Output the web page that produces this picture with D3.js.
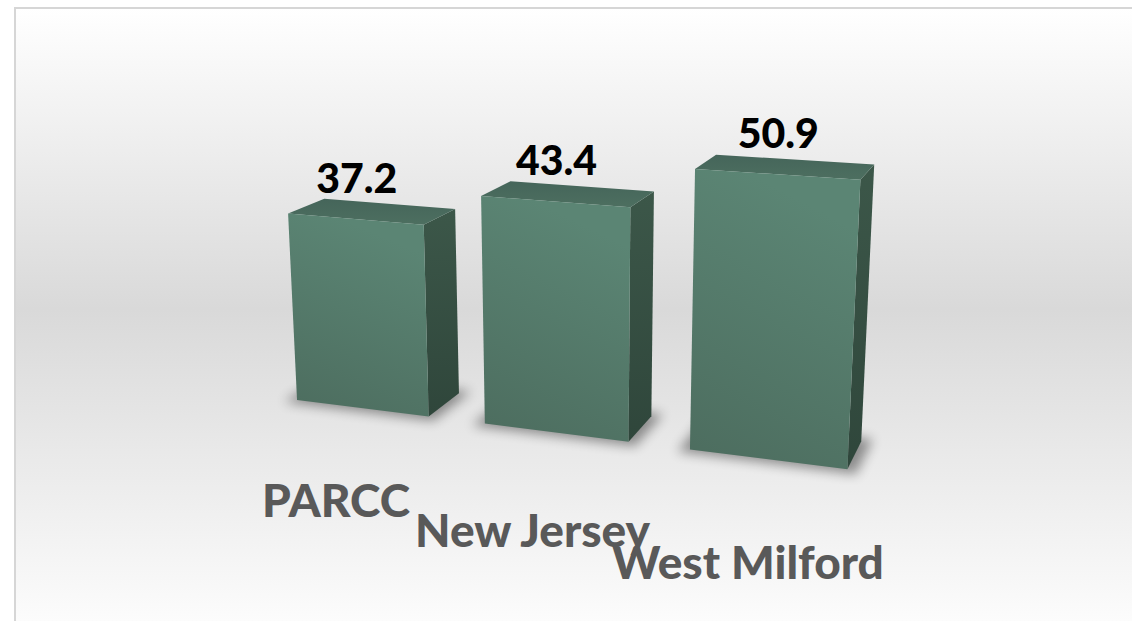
<!DOCTYPE html>
<html><head><meta charset="utf-8">
<script src="https://cdn.jsdelivr.net/npm/d3@7"></script>
<style>body{margin:0;background:#fff}svg{display:block}</style>
</head><body><svg id="c" width="1132" height="621"></svg>
<script>
// ---- data ----
const categories = ["PARCC", "New Jersey", "West Milford"];
const values = [37.2, 43.4, 50.9];
const valueLabels = ["37.2", "43.4", "50.9"];
const yDomain = [0, 60];

// ---- layout ----
const svg = d3.select("#c");
const W = 1132, H = 621;

// 3D camera (perspective)
const deg = Math.PI / 180;
const camera = { f: 1555, cx: 583, cy: 259, yaw: 19.4 * deg, pitch: 14.3 * deg, origin: [-242.6, 107.1, 1209.5] };
const ct = Math.cos(camera.yaw), st = Math.sin(camera.yaw), cp = Math.cos(camera.pitch), sp = Math.sin(camera.pitch);
const ex = [ct, st * sp, -st * cp];
const ey = [0, -cp, -sp];
const ez = [st, -ct * sp, ct * cp];
function project(X, Y, Z) {
  const o = camera.origin;
  const c = [0, 1, 2].map(i => o[i] + X * ex[i] + Y * ey[i] + Z * ez[i]);
  return [camera.cx + camera.f * c[0] / c[2], camera.cy + camera.f * c[1] / c[2]];
}

const x = d3.scaleBand().domain(categories).range([0, 472]).paddingInner(0.29).paddingOuter(0.145);
const y = d3.scaleLinear().domain(yDomain).range([0, 238]);
const depth = 56;

// ---- defs ----
const defs = svg.append("defs");
const bg = defs.append("linearGradient").attr("id", "bg").attr("x1", 0).attr("y1", 0).attr("x2", 0).attr("y2", 1);
bg.append("stop").attr("offset", 0).attr("stop-color", "#ffffff");
bg.append("stop").attr("offset", 0.47).attr("stop-color", "#d9d9d9");
bg.append("stop").attr("offset", 1).attr("stop-color", "#ffffff");

const fg = defs.append("linearGradient").attr("id", "front").attr("x1", 0.3).attr("y1", 0).attr("x2", 0).attr("y2", 1);
fg.append("stop").attr("offset", 0).attr("stop-color", "#5b8574");
fg.append("stop").attr("offset", 1).attr("stop-color", "#4c6c5e");

const rg = defs.append("linearGradient").attr("id", "right").attr("x1", 0).attr("y1", 0).attr("x2", 0).attr("y2", 1);
rg.append("stop").attr("offset", 0).attr("stop-color", "#3c5749");
rg.append("stop").attr("offset", 1).attr("stop-color", "#2f463b");

const tg = defs.append("linearGradient").attr("id", "top").attr("x1", 0).attr("y1", 1).attr("x2", 0).attr("y2", 0);
tg.append("stop").attr("offset", 0).attr("stop-color", "#4d6f60");
tg.append("stop").attr("offset", 1).attr("stop-color", "#45655a");

const blur = defs.append("filter").attr("id", "blur").attr("x", "-50%").attr("y", "-50%").attr("width", "200%").attr("height", "200%");
blur.append("feGaussianBlur").attr("stdDeviation", 6);

// ---- background ----
svg.append("rect").attr("x", 15).attr("y", 8).attr("width", W + 20).attr("height", H + 20)
  .attr("fill", "url(#bg)").attr("stroke", "#d6d6d6").attr("stroke-width", 2);

const line = pts => "M" + pts.map(p => p.join(",")).join("L") + "Z";

const bars = categories.map((c, i) => {
  const x0 = x(c), x1 = x(c) + x.bandwidth(), h = y(values[i]);
  return { c, i, x0, x1, h, xc: x(c) + x.bandwidth() / 2 };
});

// shadows
const pad = 7;
svg.append("g").selectAll("path").data(bars).join("path")
  .attr("d", b => line([
    project(b.x0 - pad, 0, -pad), project(b.x1 + pad, 0, -pad),
    project(b.x1 + pad, 0, depth + pad), project(b.x0 - pad, 0, depth + pad)]))
  .attr("fill", "#000").attr("opacity", 0.4).attr("filter", "url(#blur)");

const g = svg.append("g");
bars.forEach(b => {
  const bg_ = g.append("g");
  bg_.append("path").attr("d", line([
    project(b.x1, 0, 0), project(b.x1, 0, depth), project(b.x1, b.h, depth), project(b.x1, b.h, 0)]))
    .attr("fill", "url(#right)");
  bg_.append("path").attr("d", line([
    project(b.x0, b.h, 0), project(b.x1, b.h, 0), project(b.x1, b.h, depth), project(b.x0, b.h, depth)]))
    .attr("fill", "url(#top)");
  bg_.append("path").attr("d", line([
    project(b.x0, 0, 0), project(b.x1, 0, 0), project(b.x1, b.h, 0), project(b.x0, b.h, 0)]))
    .attr("fill", "url(#front)");
});

// value labels
svg.append("g").selectAll("text").data(bars).join("text")
  .attr("x", b => project(b.xc, b.h, 0)[0] + 2)
  .attr("y", b => project(b.xc, b.h, 0)[1] - 26)
  .attr("text-anchor", "middle")
  .attr("font-family", "Lato, 'Open Sans', sans-serif").attr("font-weight", 900)
  .attr("font-size", 41).attr("fill", "#000")
  .text(b => valueLabels[b.i]);

// category labels
svg.append("g").selectAll("text").data(bars).join("text")
  .attr("x", b => project(b.xc, -71, -44)[0] - 2)
  .attr("y", b => project(b.xc, -71, -44)[1])
  .attr("text-anchor", "middle")
  .attr("font-family", "Lato, 'Open Sans', sans-serif").attr("font-weight", 900)
  .attr("font-size", 46).attr("fill", "#595959")
  .text(b => b.c);
</script>
</body></html>
